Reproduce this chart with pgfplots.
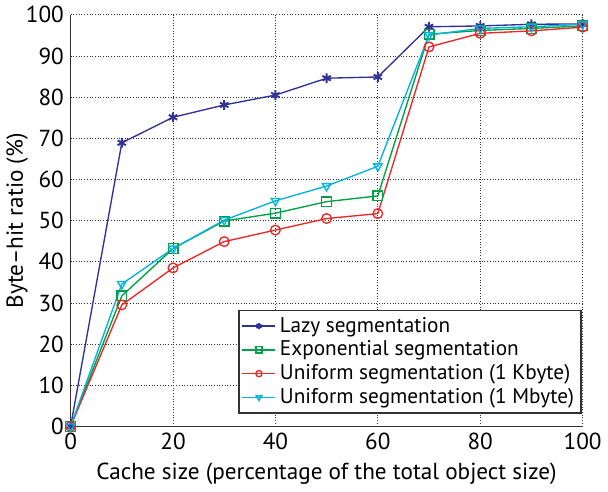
\documentclass[border=0pt]{standalone}
\usepackage{fontspec}
\setmainfont{PT Sans}
\usepackage{pgfplots}
\pgfplotsset{compat=1.18}
\definecolor{lazyc}{RGB}{50,50,150}
\definecolor{expc}{RGB}{0,160,70}
\definecolor{unikc}{RGB}{235,40,40}
\definecolor{unimc}{RGB}{0,180,220}
\begin{document}
\begin{tikzpicture}
\begin{axis}[
  width=265pt, height=213pt, scale only axis,
  xmin=0, xmax=100, ymin=0, ymax=100,
  xtick={0,20,...,100}, ytick={0,10,...,100},
  axis x line*=bottom, axis y line*=left,
  axis line style={thick, black!80},
  major tick length=0pt,
  grid=major,
  major grid style={densely dotted, black!80},
  /pgf/number format/assume math mode=true,
  ticklabel style={font=\fontsize{12}{14}\selectfont},
  label style={font=\fontsize{12}{14}\selectfont},
  xlabel={Cache size (percentage of the total object size)},
  ylabel={Byte–hit ratio (\%)},
  xlabel style={yshift=0pt},
  ylabel style={yshift=-8pt},
  legend style={at={(0.998,0.03)}, anchor=south east, draw=black!80, thick,
    font=\fontsize{11}{12.5}\selectfont, inner sep=1.5pt, row sep=-1pt},
  legend image post style={mark size=1.6pt},
  legend cell align=left,
  every axis plot/.append style={line width=0.7pt},
  mark size=2.5pt,
  clip=false,
]
\addplot[lazyc, mark=asterisk, mark options={line width=1pt}] coordinates {
(0,0) (10,68.9) (20,75.1) (30,78.1) (40,80.5) (50,84.6) (60,84.9) (70,97.1) (80,97.3) (90,97.7) (100,97.8)};
\addplot[expc, mark=square] coordinates {
(0,0) (10,31.7) (20,43.2) (30,49.9) (40,51.8) (50,54.6) (60,56.0) (70,95.3) (80,96.2) (90,96.7) (100,97.3)};
\addplot[unikc, mark=o] coordinates {
(0,0) (10,29.5) (20,38.5) (30,44.9) (40,47.7) (50,50.5) (60,51.7) (70,92.2) (80,95.5) (90,96.1) (100,97.0)};
\addplot[unimc, mark=triangle, mark options={rotate=180}] coordinates {
(0,0) (10,34.6) (20,43.2) (30,50.1) (40,54.8) (50,58.4) (60,63.2) (70,95.1) (80,96.7) (90,97.1) (100,97.7)};
\legend{Lazy segmentation, Exponential segmentation, Uniform segmentation (1 Kbyte), Uniform segmentation (1 Mbyte)}
\end{axis}
\end{tikzpicture}
\end{document}
